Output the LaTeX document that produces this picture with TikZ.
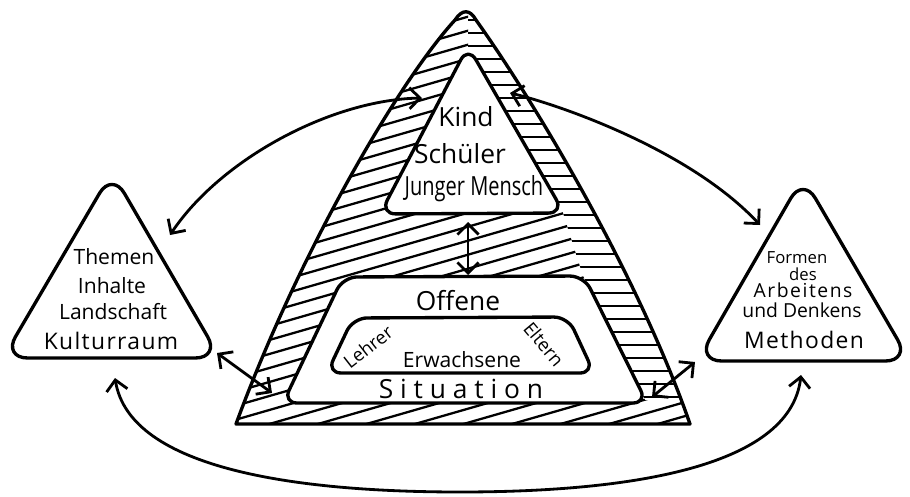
\documentclass[tikz,border=0pt]{standalone}
\usepackage{fontspec}
\setmainfont{Open Sans}
\usetikzlibrary{arrows.meta}
\begin{document}
\begin{tikzpicture}[x=0.02cm,y=-0.02cm, line join=round, line cap=round,
  outline/.style={line width=1.9pt},
  hatch/.style={line width=1.3pt},
  conn/.style={line width=1.6pt,<->,>={Straight Barb[length=6pt,width=12pt]}},
  txt/.style={inner sep=0pt,align=center},
  fa/.style={font=\fontsize{15}{17}\selectfont},
  fb/.style={font=\fontsize{13}{15}\selectfont},
  fe/.style={font=\fontsize{12}{14}\selectfont},
  fc/.style={font=\fontsize{11}{13}\selectfont},
  fg/.style={font=\fontsize{10.5}{12}\selectfont},
  fd/.style={font=\fontsize{9.5}{11}\selectfont}]
\fill[white] (0,0) rectangle (910,497);
\useasboundingbox (0,0) rectangle (910,497);

% slanted hatching (left side and bottom)
\begin{scope}
\clip (236,424) .. controls (300,250) and (400,80) .. (455,20) .. controls (462,9) and (470,9) .. (476,20) .. controls (540,110) and (640,280) .. (690,424) -- cycle;
\clip (200,0) -- (468,0) -- (468,50) -- (562,210) -- (583,276) -- (645,400) -- (720,400) -- (720,440) -- (200,440) -- cycle;
\foreach \c in {80,94,...,600} \draw[hatch] (200,\c) -- (720,{\c-150});
\end{scope}
% horizontal hatching (right side)
\begin{scope}
\clip (236,424) .. controls (300,250) and (400,80) .. (455,20) .. controls (462,9) and (470,9) .. (476,20) .. controls (540,110) and (640,280) .. (690,424) -- cycle;
\clip (468,0) -- (468,50) -- (562,210) -- (583,276) -- (645,400) -- (720,400) -- (720,0) -- cycle;
\foreach \y in {20,33,...,400} \draw[hatch] (460,\y) -- (720,\y);
\end{scope}
% big triangle outline
\draw[outline] (236,424) .. controls (300,250) and (400,80) .. (455,20) .. controls (462,9) and (470,9) .. (476,20) .. controls (540,110) and (640,280) .. (690,424) -- cycle;

% inner top triangle
\draw[outline,fill=white,rounded corners=9pt] (468,46) -- (564,213) -- (380,214) -- cycle;
% trapezoids
\draw[outline,fill=white,rounded corners=8pt] (343,277) -- (584,276) -- (647,403) -- (283,403) -- cycle;
\draw[outline,rounded corners=8pt] (353,318) -- (568,317) -- (594,373) -- (327,373) -- cycle;

% side triangles
\draw[outline,rounded corners=14pt] (112,172) -- (220,358) -- (3,358) -- cycle;
\draw[outline,rounded corners=14pt] (803,177) -- (910,361) -- (697,361) -- cycle;

% texts
\node[txt,fa] (kind) at (466,117) {Kind};
\node[txt,fa] (schueler) at (460,154) {Schüler};
\node[txt,fa,xscale=0.76] (junger) at (474,189) {Junger Mensch};

\node[txt,fe] (themen) at (114,257) {Themen};
\node[txt,fe] (inhalte) at (112,286) {Inhalte};
\node[txt,fe] (landschaft) at (113,312) {Landschaft};
\node[txt,fb] (kultur) at (111,341) {\addfontfeature{LetterSpace=6}Kulturraum};

\node[txt,fd] (formen) at (797,258) {Formen};
\node[txt,fd] (des) at (803,274) {des};
\node[txt,fc] (arbeitens) at (803,290) {\addfontfeature{LetterSpace=8}Arbeitens};
\node[txt,fc] (denkens) at (802,310) {und Denkens};
\node[txt,fb] (methoden) at (804,340) {\addfontfeature{LetterSpace=6}Methoden};

\node[txt,fa] (offene) at (458,301) {Offene};
\node[txt,fg,rotate=38] (lehrer) at (368,347) {Lehrer};
\node[txt,fe] (erwachsene) at (462,360) {Erwachsene};
\node[txt,fg,rotate=-50] (eltern) at (544,344) {Eltern};
\node[txt,fa] (situation) at (461,389) {\addfontfeature{LetterSpace=26}Situation};

% connectors
\coordinate (tlA) at (170,235);
\coordinate (tlB) at (422,98);
\coordinate (trA) at (510,93);
\coordinate (trB) at (760,225);
\coordinate (bL) at (115,378);
\coordinate (bM) at (460,492);
\coordinate (bR) at (801,375);
\coordinate (llA) at (217,353);
\coordinate (llB) at (272,393);
\coordinate (lrA) at (652,397);
\coordinate (lrB) at (695,362);
\coordinate (vA) at (468,222);
\coordinate (vB) at (468,275);

\draw[conn] (tlA) .. controls (220,160) and (330,100) .. (tlB);
\draw[conn] (trA) .. controls (560,105) and (690,150) .. (trB);
\draw[conn] (bL) .. controls (130,470) and (300,492) .. (bM) .. controls (620,492) and (790,470) .. (bR);
\draw[conn] (llA) -- (llB);
\draw[conn] (lrA) -- (lrB);
\draw[conn] (vA) -- (vB);
\end{tikzpicture}
\end{document}
